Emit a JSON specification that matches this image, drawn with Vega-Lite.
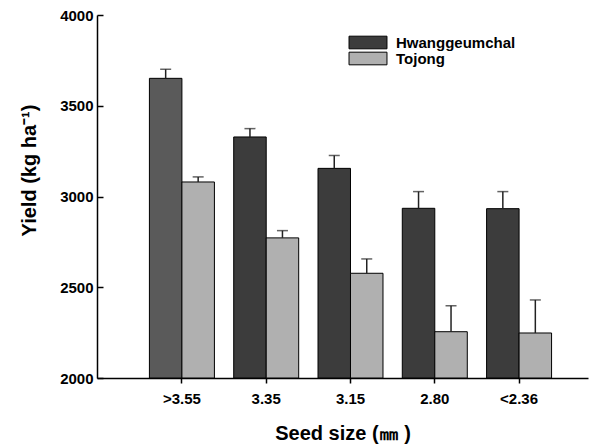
{
  "$schema": "https://vega.github.io/schema/vega-lite/v6.json",
  "width": 491,
  "height": 363,
  "autosize": "none",
  "padding": {"left": 97, "top": 15, "right": 17, "bottom": 70},
  "background": "white",
  "config": {
    "view": {"stroke": null},
    "font": "Liberation Sans",
    "axis": {"grid": false, "domainColor": "#000", "tickColor": "#000", "domainWidth": 1.5, "tickWidth": 1.5,
      "labelFont": "Liberation Sans", "labelFontWeight": "bold", "labelFontSize": 15, "labelColor": "#000",
      "titleFont": "Liberation Sans", "titleFontWeight": "bold", "titleFontSize": 20, "titleColor": "#000"}
  },
  "data": {"values": [
    {"size": ">3.55", "variety": "Hwanggeumchal", "yield": 3651, "hi": 3701},
    {"size": ">3.55", "variety": "Tojong", "yield": 3080, "hi": 3108},
    {"size": "3.35", "variety": "Hwanggeumchal", "yield": 3328, "hi": 3374},
    {"size": "3.35", "variety": "Tojong", "yield": 2772, "hi": 2812},
    {"size": "3.15", "variety": "Hwanggeumchal", "yield": 3155, "hi": 3226},
    {"size": "3.15", "variety": "Tojong", "yield": 2577, "hi": 2656},
    {"size": "2.80", "variety": "Hwanggeumchal", "yield": 2935, "hi": 3027},
    {"size": "2.80", "variety": "Tojong", "yield": 2255, "hi": 2398},
    {"size": "<2.36", "variety": "Hwanggeumchal", "yield": 2933, "hi": 3027},
    {"size": "<2.36", "variety": "Tojong", "yield": 2248, "hi": 2430}
  ]},
  "encoding": {
    "x": {"field": "size", "type": "nominal", "sort": null,
      "scale": {"paddingInner": 0.229, "paddingOuter": 0.527, "align": 0.59},
      "axis": {"title": "Seed size (㎜ )", "labelAngle": 0, "tickSize": 5, "labelPadding": 8, "titlePadding": 17}},
    "xOffset": {"field": "variety", "type": "nominal", "scale": {"paddingInner": 0, "paddingOuter": 0}}
  },
  "layer": [
    {
      "mark": {"type": "bar", "stroke": "#000", "strokeWidth": 1},
      "encoding": {
        "y": {"field": "yield", "type": "quantitative",
          "scale": {"domain": [2000, 4000], "nice": false, "zero": false},
          "axis": {"title": "Yield (kg ha⁻¹)", "values": [2000, 2500, 3000, 3500, 4000], "format": "d", "tickSize": -6, "labelPadding": 10,
            "titleX": -58, "titleY": 155}},
        "y2": {"datum": 2000},
        "color": {
          "condition": {"test": "datum.size === '>3.55' && datum.variety === 'Hwanggeumchal'", "value": "#5a5a5a"},
          "field": "variety", "type": "nominal",
          "scale": {"domain": ["Hwanggeumchal", "Tojong"], "range": ["#3c3c3c", "#b0b0b0"]},
          "legend": {"title": null, "orient": "none", "legendX": 263.5, "legendY": 20,
            "symbolType": "M-3,-1H3V1H-3Z", "symbolSize": 160, "symbolStrokeColor": "#000", "symbolStrokeWidth": 1,
            "symbolOpacity": 1, "labelFont": "Liberation Sans", "labelFontWeight": "bold", "labelFontSize": 15, "labelColor": "#000",
            "labelOffset": 20.5, "rowPadding": -2}
        }
      }
    },
    {
      "mark": {"type": "rule", "color": "#222", "strokeWidth": 1.5},
      "encoding": {"y": {"field": "yield", "type": "quantitative"}, "y2": {"field": "hi"}}
    },
    {
      "mark": {"type": "tick", "color": "#222", "thickness": 1.5, "size": 11, "orient": "horizontal"},
      "encoding": {"y": {"field": "hi", "type": "quantitative"}}
    }
  ]
}
